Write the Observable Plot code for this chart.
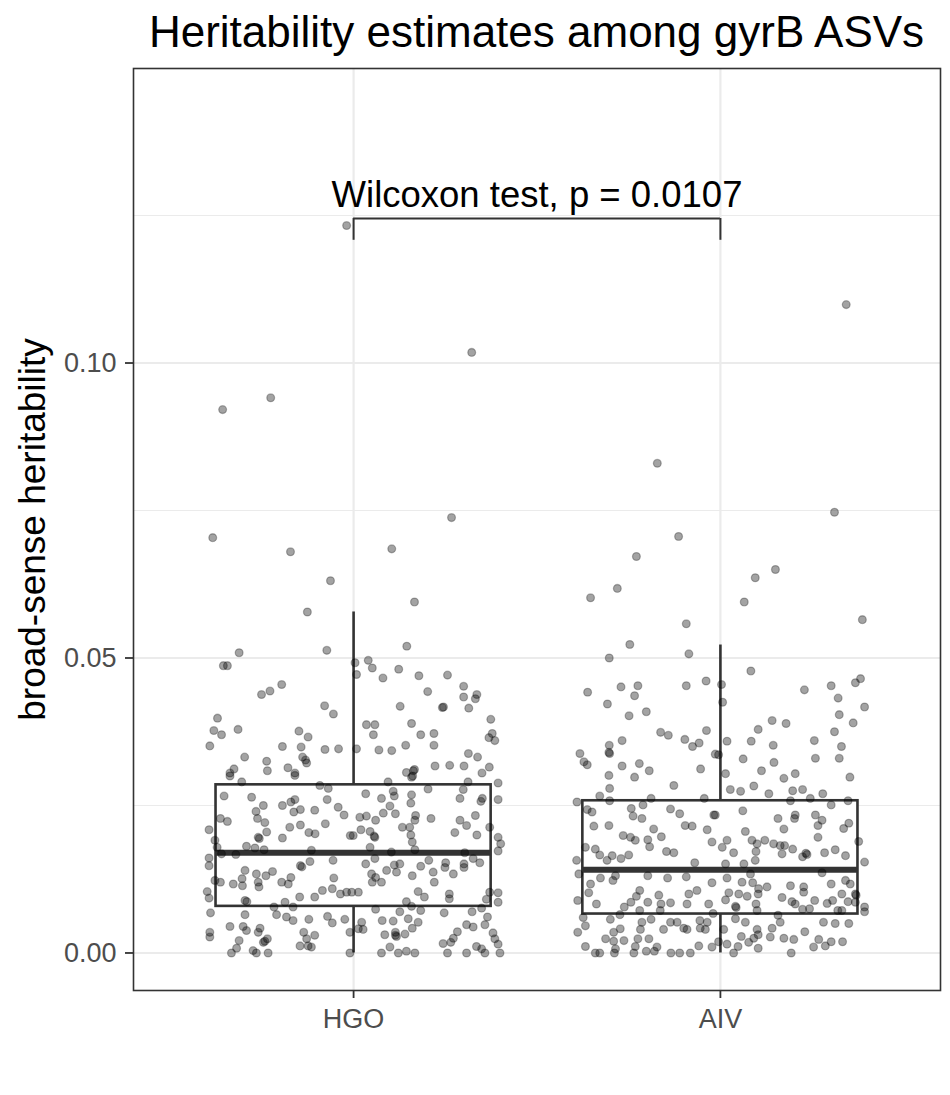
<!DOCTYPE html>
<html>
<head>
<meta charset="utf-8">
<script src="https://cdn.jsdelivr.net/npm/d3@7"></script>
<script src="https://cdn.jsdelivr.net/npm/@observablehq/plot@0.6"></script>
<style>
  body { margin: 0; background: #fff; font-family: "Liberation Sans", Arial, Helvetica, sans-serif; }
  #title { box-sizing: border-box; width: 950px; height: 53px; padding: 10px 10px 0 133px;
           font-size: 44px; line-height: 43px; text-align: center; color: #000; white-space: nowrap; }
  #chart svg { display: block; }
</style>
</head>
<body>
<div id="title">Heritability estimates among gyrB ASVs</div>
<div id="chart"></div>
<script>
// Groups on the x axis
const groups = ["HGO", "AIV"];

// Box summary per group (same order as groups)
const whiskerLow  = [0.0000, 0.0000];
const q1          = [0.0079, 0.0066];
const median      = [0.0170, 0.0141];
const q3          = [0.0285, 0.0258];
const whiskerHigh = [0.0578, 0.0522];

// Wilcoxon comparison
const testLabel = "Wilcoxon test, p = 0.0107";
const bracketY = 0.1245;
const bracketTipY = 0.1208;
const labelY = 0.1264;

// Y axis ticks
const yMajor = [0, 0.05, 0.10];
const yMinor = [0.025, 0.075, 0.125];

// Jittered ASV estimates: [jitter offset, broad-sense heritability]
const hgoPoints = [
  [-0.019,0.1233],[-0.357,0.0921],[-0.226,0.0941],[0.322,0.1018],[-0.384,0.0704],[-0.172,0.0680],[0.267,0.0738],[0.104,0.0685],[-0.063,0.0631],[0.166,0.0595],
  [-0.126,0.0578],[-0.312,0.0509],[-0.073,0.0513],[-0.355,0.0487],[-0.344,0.0487],[-0.196,0.0455],[-0.251,0.0438],[-0.228,0.0444],[-0.079,0.0419],[-0.055,0.0405],
  [-0.371,0.0398],[-0.381,0.0377],[-0.360,0.0370],[-0.315,0.0379],[-0.149,0.0376],[-0.124,0.0366],[-0.392,0.0351],[-0.194,0.0350],[-0.143,0.0349],[-0.078,0.0345],
  [-0.041,0.0346],[-0.297,0.0332],[-0.237,0.0325],[-0.139,0.0332],[-0.131,0.0327],[-0.128,0.0322],[-0.326,0.0312],[-0.337,0.0305],[-0.235,0.0309],[-0.179,0.0314],[-0.160,0.0305],
  [0.145,0.0520],[0.004,0.0492],[0.040,0.0496],[0.051,0.0483],[0.008,0.0472],[0.080,0.0466],[0.123,0.0481],[0.178,0.0470],[0.256,0.0471],[0.300,0.0452],
  [0.202,0.0443],[0.300,0.0434],[0.336,0.0438],[0.332,0.0431],[0.242,0.0416],[0.245,0.0417],[0.314,0.0415],[0.127,0.0418],[0.374,0.0396],[0.035,0.0387],
  [0.058,0.0387],[0.054,0.0370],[0.158,0.0389],[0.183,0.0370],[0.219,0.0372],[0.378,0.0372],[0.369,0.0365],[0.385,0.0360],[0.008,0.0346],[0.069,0.0344],
  [0.104,0.0343],[0.142,0.0352],[0.219,0.0352],[0.313,0.0338],[0.338,0.0332],[0.222,0.0317],[0.262,0.0318],[0.301,0.0317],[0.370,0.0315],[0.350,0.0305],
  [0.144,0.0306],[0.163,0.0309],[0.166,0.0311],[0.161,0.0300],
  [-0.337,0.0300],[-0.305,0.0290],[-0.160,0.0301],
  [-0.353,0.0266],[-0.278,0.0264],[-0.246,0.0250],[-0.266,0.0240],[-0.262,0.0228],[-0.242,0.0221],[-0.237,0.0205],[-0.260,0.0196],[-0.257,0.0194],[-0.194,0.0250],
  [-0.171,0.0256],[-0.160,0.0260],[-0.163,0.0239],[-0.145,0.0243],[-0.106,0.0242],[-0.072,0.0260],[-0.042,0.0247],[-0.026,0.0234],[-0.092,0.0284],[-0.069,0.0279],
  [-0.363,0.0228],[-0.344,0.0223],[-0.394,0.0209],[-0.174,0.0213],[-0.145,0.0217],[-0.122,0.0204],[-0.105,0.0202],[-0.077,0.0219],[-0.194,0.0195],[-0.009,0.0199],
  [-0.378,0.0191],[-0.372,0.0179],[-0.292,0.0181],[-0.269,0.0178],[-0.244,0.0175],[-0.115,0.0174],[-0.321,0.0167],[-0.360,0.0168],[-0.394,0.0161],[-0.394,0.0148],
  [-0.056,0.0157],[-0.296,0.0140],[-0.265,0.0134],[-0.239,0.0131],[-0.221,0.0138],[-0.145,0.0148],[-0.141,0.0146],[-0.119,0.0155],[-0.304,0.0126],[-0.328,0.0117],
  [-0.303,0.0114],[-0.260,0.0120],[-0.258,0.0112],[-0.196,0.0120],[-0.178,0.0117],[-0.171,0.0128],[-0.363,0.0120],[-0.378,0.0123],[-0.399,0.0104],[-0.394,0.0093],
  [-0.085,0.0106],[-0.058,0.0109],[-0.054,0.0127],[-0.036,0.0100],[-0.019,0.0103],[-0.147,0.0095],[-0.106,0.0095],[-0.296,0.0089],[-0.291,0.0087],
  [-0.390,0.0068],[-0.296,0.0065],[-0.217,0.0078],[-0.210,0.0065],[-0.187,0.0086],[-0.183,0.0061],[-0.165,0.0055],[-0.165,0.0078],[-0.122,0.0057],[-0.071,0.0062],
  [-0.058,0.0051],[-0.024,0.0057],[-0.337,0.0045],[-0.301,0.0045],[-0.292,0.0038],[-0.255,0.0042],[-0.260,0.0035],[-0.235,0.0024],[-0.246,0.0018],[-0.242,0.0020],
  [-0.392,0.0035],[-0.392,0.0027],[-0.312,0.0021],[-0.319,0.0008],[-0.333,0.0000],[-0.274,0.0004],[-0.265,0.0000],[-0.233,0.0000],[-0.136,0.0035],[-0.128,0.0024],
  [-0.106,0.0030],[-0.146,0.0012],[-0.124,0.0012],[-0.115,0.0010],[-0.010,0.0035],[-0.010,0.0000],
  [0.094,0.0290],[0.158,0.0298],[0.312,0.0290],[0.394,0.0288],[0.203,0.0278],[0.108,0.0274],[0.299,0.0277],[0.394,0.0260],
  [0.033,0.0270],[0.076,0.0262],[0.111,0.0266],[0.158,0.0268],[0.156,0.0254],[0.099,0.0249],[0.081,0.0237],[0.114,0.0236],[0.169,0.0233],[0.167,0.0225],
  [0.211,0.0228],[0.290,0.0262],[0.351,0.0262],[0.347,0.0257],[0.332,0.0233],[0.017,0.0230],[0.035,0.0232],[0.060,0.0225],[0.020,0.0209],[0.045,0.0206],
  [0.056,0.0198],[0.058,0.0196],[0.133,0.0213],[0.153,0.0213],[0.156,0.0200],[0.160,0.0188],[0.290,0.0225],[0.308,0.0216],[0.276,0.0204],[0.336,0.0200],
  [0.371,0.0213],[0.394,0.0196],[0.401,0.0185],[0.394,0.0173],[-0.001,0.0199],[0.045,0.0179],[0.167,0.0175],[0.103,0.0171],[0.303,0.0170],
  [0.033,0.0151],[0.058,0.0160],[0.090,0.0140],[0.111,0.0149],[0.126,0.0151],[0.117,0.0137],[0.049,0.0134],[0.060,0.0128],[0.076,0.0120],[0.051,0.0120],
  [0.160,0.0131],[0.183,0.0147],[0.205,0.0157],[0.217,0.0137],[0.220,0.0120],[0.251,0.0153],[0.249,0.0145],[0.272,0.0134],[0.301,0.0151],[0.301,0.0145],
  [0.326,0.0160],[0.344,0.0153],[0.013,0.0103],[-0.005,0.0103],[0.176,0.0104],[0.193,0.0095],[0.261,0.0100],[0.261,0.0092],[0.371,0.0103],[0.394,0.0102],
  [0.362,0.0091],[0.394,0.0086],[0.144,0.0087],[0.158,0.0079],
  [0.060,0.0074],[0.126,0.0070],[0.183,0.0072],[0.247,0.0068],[0.323,0.0070],[0.349,0.0076],[0.365,0.0061],[0.022,0.0052],[0.013,0.0041],[0.026,0.0040],
  [0.078,0.0055],[0.108,0.0054],[0.149,0.0058],[0.176,0.0052],[0.160,0.0042],[0.140,0.0032],[0.114,0.0035],[0.114,0.0030],[0.117,0.0028],[0.085,0.0031],
  [0.308,0.0048],[0.326,0.0044],[0.358,0.0048],[0.283,0.0036],[0.272,0.0025],[0.265,0.0018],[0.244,0.0016],[0.380,0.0034],[0.385,0.0024],[0.394,0.0015],
  [0.335,0.0011],[0.349,0.0007],[0.099,0.0010],[0.076,0.0000],[0.122,0.0000],[0.144,0.0003],[0.167,0.0000],[0.256,0.0000],[0.308,0.0000],[0.358,0.0000],[0.399,0.0000]
];

const aivPoints = [
  [0.343,0.1099],[-0.172,0.0830],[-0.114,0.0706],[-0.229,0.0672],[-0.281,0.0618],[0.311,0.0747],[0.095,0.0636],[0.150,0.0650],[-0.354,0.0602],[0.065,0.0595],
  [0.387,0.0565],[-0.093,0.0558],
  [-0.247,0.0523],[-0.303,0.0500],[-0.086,0.0507],[-0.039,0.0461],[-0.093,0.0453],[-0.271,0.0451],[-0.225,0.0453],[-0.234,0.0436],[-0.362,0.0442],[-0.308,0.0422],
  [-0.202,0.0409],[-0.249,0.0402],[-0.038,0.0377],[-0.163,0.0374],[-0.142,0.0369],[-0.097,0.0362],[-0.076,0.0350],[-0.058,0.0356],[-0.268,0.0360],[-0.303,0.0352],
  [-0.304,0.0340],[-0.302,0.0338],[-0.383,0.0338],[-0.372,0.0324],[-0.363,0.0319],[-0.268,0.0317],[-0.221,0.0321],[-0.194,0.0309],[-0.054,0.0312],[-0.014,0.0337],
  [-0.304,0.0301],[-0.234,0.0298],
  [0.083,0.0478],[0.003,0.0455],[0.006,0.0425],[0.229,0.0446],[0.302,0.0453],[0.368,0.0458],[0.382,0.0465],[0.321,0.0432],[0.393,0.0417],[0.324,0.0404],
  [0.362,0.0390],[0.311,0.0375],[0.330,0.0350],[0.103,0.0379],[0.141,0.0394],[0.179,0.0389],[0.018,0.0359],[0.084,0.0359],[0.144,0.0352],[0.256,0.0360],
  [-0.005,0.0336],[0.062,0.0329],[0.146,0.0323],[0.259,0.0330],[0.324,0.0330],[0.112,0.0309],[0.014,0.0304],[0.204,0.0304],[0.173,0.0296],[0.353,0.0298],
  [-0.302,0.0279],[-0.127,0.0284],[-0.391,0.0256],[-0.329,0.0266],[-0.302,0.0258],[-0.189,0.0262],[-0.044,0.0262],
  [-0.350,0.0239],[-0.363,0.0243],[-0.345,0.0215],[-0.304,0.0216],[-0.243,0.0245],[-0.211,0.0251],[-0.238,0.0232],[-0.214,0.0228],[-0.136,0.0244],[-0.111,0.0236],
  [-0.018,0.0234],[-0.096,0.0216],[-0.077,0.0215],[-0.036,0.0209],[-0.182,0.0210],[-0.161,0.0197],[-0.265,0.0199],[-0.245,0.0196],[-0.232,0.0191],[-0.198,0.0192],
  [-0.193,0.0180],[-0.023,0.0188],[-0.368,0.0179],[-0.341,0.0176],[-0.329,0.0166],[-0.295,0.0165],[-0.271,0.0160],[-0.250,0.0166],[-0.147,0.0172],[-0.127,0.0170],
  [-0.070,0.0153],[-0.392,0.0157],[-0.309,0.0157],
  [-0.327,0.0127],[-0.293,0.0123],[-0.286,0.0131],[-0.198,0.0131],[-0.144,0.0127],[-0.093,0.0129],[-0.023,0.0119],[-0.354,0.0117],[-0.359,0.0102],[-0.386,0.0134],
  [-0.389,0.0089],[-0.338,0.0083],[-0.220,0.0106],[-0.229,0.0096],[-0.244,0.0086],[-0.262,0.0078],[-0.198,0.0086],[-0.220,0.0072],[-0.168,0.0098],[-0.162,0.0083],
  [-0.136,0.0085],[-0.164,0.0072],[-0.091,0.0083],[-0.064,0.0106],[-0.086,0.0100],[-0.032,0.0083],[-0.020,0.0067],
  [-0.374,0.0060],[-0.368,0.0046],[-0.389,0.0035],[-0.300,0.0057],[-0.274,0.0065],[-0.313,0.0024],[-0.291,0.0035],[-0.273,0.0041],[-0.263,0.0021],[-0.291,0.0020],
  [-0.214,0.0052],[-0.218,0.0040],[-0.195,0.0024],[-0.225,0.0024],[-0.189,0.0057],[-0.232,0.0011],[-0.173,0.0010],[-0.155,0.0040],[-0.136,0.0052],[-0.118,0.0052],
  [-0.100,0.0042],[-0.091,0.0040],[-0.055,0.0042],[-0.041,0.0040],[-0.056,0.0055],[-0.036,0.0052],[-0.005,0.0019],[-0.023,0.0010],[-0.059,0.0012],[-0.368,0.0011],
  [-0.341,0.0000],[-0.329,0.0000],[-0.289,0.0000],[-0.236,0.0000],[-0.202,0.0003],[-0.180,0.0003],[-0.135,0.0000],[-0.111,0.0000],[-0.082,0.0000],[-0.286,0.0007],
  [0.027,0.0277],[0.055,0.0274],[0.091,0.0283],[0.132,0.0270],[0.197,0.0275],[0.224,0.0277],[0.279,0.0270],[0.245,0.0262],[0.191,0.0258],[0.302,0.0251],[0.348,0.0258],
  [0.061,0.0241],[-0.014,0.0234],[0.157,0.0228],[0.204,0.0234],[0.202,0.0228],[0.259,0.0234],[0.277,0.0225],[0.266,0.0216],[0.173,0.0210],[0.068,0.0206],
  [0.350,0.0220],[0.336,0.0211],[0.266,0.0196],[0.018,0.0191],[0.005,0.0179],[0.036,0.0170],[0.086,0.0191],[0.100,0.0185],[0.121,0.0191],[0.145,0.0185],
  [0.163,0.0182],[0.175,0.0182],[0.197,0.0176],[0.097,0.0172],[0.095,0.0157],[0.168,0.0168],[0.233,0.0169],[0.236,0.0167],[0.224,0.0163],[0.284,0.0170],
  [0.313,0.0175],[0.341,0.0165],[0.377,0.0189],[0.393,0.0154],[0.014,0.0151],[0.064,0.0151],[0.082,0.0134],[0.277,0.0136],
  [0.018,0.0127],[0.059,0.0120],[0.088,0.0119],[0.104,0.0109],[0.127,0.0112],[0.103,0.0100],[0.191,0.0114],[0.227,0.0112],[0.227,0.0103],[0.302,0.0117],
  [0.341,0.0123],[0.354,0.0117],[0.368,0.0100],[0.370,0.0098],[0.331,0.0100],[0.023,0.0102],[0.050,0.0100],[0.073,0.0096],[0.014,0.0090],[0.168,0.0094],
  [0.195,0.0087],[0.204,0.0083],[0.257,0.0089],[0.291,0.0084],[0.306,0.0089],[0.348,0.0087],[0.368,0.0086],[0.041,0.0079],[0.043,0.0077],[0.097,0.0083],
  [0.100,0.0072],[0.224,0.0074],[0.243,0.0075],[0.320,0.0072],[0.331,0.0072],[0.393,0.0078],[0.393,0.0070],
  [0.041,0.0058],[0.068,0.0052],[0.157,0.0064],[0.163,0.0052],[0.281,0.0052],[0.313,0.0050],[0.350,0.0050],[0.009,0.0040],[0.100,0.0040],[0.141,0.0042],
  [0.230,0.0036],[0.057,0.0028],[0.091,0.0025],[0.103,0.0031],[0.136,0.0027],[0.173,0.0025],[0.200,0.0023],[0.077,0.0018],[0.103,0.0008],[0.048,0.0011],
  [0.036,0.0000],[0.018,0.0015],[0.268,0.0023],[0.286,0.0012],[0.302,0.0019],[0.333,0.0019],[0.254,0.0010],[0.193,0.0000]
];

// Table built from the arrays above: group position on x (1, 2) plus jitter
const points = [hgoPoints, aivPoints].flatMap((arr, i) =>
  arr.map(([j, h]) => ({group: groups[i], x: i + 1 + j, h}))
);
const boxes = groups.map((g, i) => ({
  g, pos: i + 1, lo: whiskerLow[i], q1: q1[i], med: median[i], q3: q3[i], hi: whiskerHigh[i]
}));

const halfBox = 0.375;
const ink = "#333333";
const gridColor = "#ebebeb";

const chart = Plot.plot({
  width: 950,
  height: 1042,
  marginTop: 15,
  marginBottom: 105,
  marginLeft: 133,
  marginRight: 10,
  style: {fontFamily: "'Liberation Sans', Arial, Helvetica, sans-serif", background: "#fff"},
  x: {type: "linear", domain: [0.4, 2.6]},
  y: {domain: [-0.00636, 0.14992]},
  marks: [
    // panel grid (minor then major)
    Plot.gridY(yMinor, {stroke: gridColor, strokeOpacity: 1, strokeWidth: 1.2}),
    Plot.gridY(yMajor, {stroke: gridColor, strokeOpacity: 1, strokeWidth: 2.2}),
    Plot.gridX([1, 2], {stroke: gridColor, strokeOpacity: 1, strokeWidth: 2.2}),

    // whiskers
    Plot.ruleX(boxes, {x: "pos", y1: "q3", y2: "hi", stroke: ink, strokeWidth: 2.6}),
    Plot.ruleX(boxes, {x: "pos", y1: "lo", y2: "q1", stroke: ink, strokeWidth: 2.6}),
    // boxes
    Plot.rect(boxes, {x1: d => d.pos - halfBox, x2: d => d.pos + halfBox, y1: "q1", y2: "q3",
      fill: "#fff", stroke: ink, strokeWidth: 2.6}),
    // medians
    Plot.ruleY(boxes, {y: "med", x1: d => d.pos - halfBox, x2: d => d.pos + halfBox, stroke: ink, strokeWidth: 6}),

    // jittered estimates
    Plot.dot(points, {x: "x", y: "h", r: 3.9, fill: "#000", fillOpacity: 0.36,
      stroke: "#000", strokeOpacity: 0.27, strokeWidth: 1.3}),

    // comparison bracket
    Plot.ruleY([bracketY], {x1: 1, x2: 2, stroke: ink, strokeWidth: 2}),
    Plot.ruleX([1, 2], {x: d => d, y1: bracketTipY, y2: bracketY, stroke: ink, strokeWidth: 2}),
    Plot.text([testLabel], {x: 1.5, y: labelY, text: d => d, fontSize: 36.5, fill: "#000",
      lineAnchor: "bottom", textAnchor: "middle"}),

    // axes
    Plot.axisY(yMajor, {tickFormat: d3.format(".2f"), tickSize: 8, tickPadding: 9, fontSize: 27,
      fill: "#4d4d4d", stroke: ink, strokeWidth: 1.8, label: null}),
    Plot.axisX([1, 2], {tickFormat: d => groups[d - 1], tickSize: 8, tickPadding: 10, fontSize: 27,
      fill: "#4d4d4d", stroke: ink, strokeWidth: 1.8, label: null}),
    Plot.text(["broad-sense heritability"], {frameAnchor: "left", dx: -100, rotate: -90,
      textAnchor: "middle", text: d => d, fontSize: 37, fill: "#000"}),

    Plot.frame({stroke: ink, strokeWidth: 1.6})
  ]
});

document.getElementById("chart").appendChild(chart);
</script>
</body>
</html>
